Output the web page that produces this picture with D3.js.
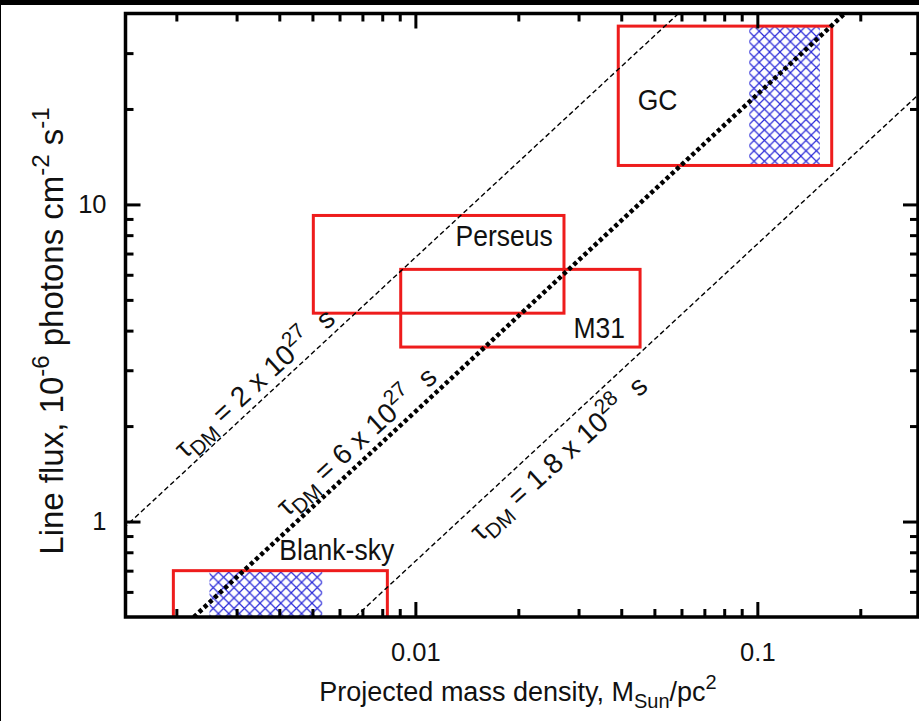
<!DOCTYPE html>
<html>
<head>
<meta charset="utf-8">
<title>Line flux vs projected mass density</title>
<script src="https://d3js.org/d3.v7.min.js"></script>
<style>
  body { margin: 0; background: #000; }
  svg { display: block; }
  text { font-family: "Liberation Sans", Arial, sans-serif; fill: #111; }
  .frame { fill: none; stroke: #000; stroke-width: 3.5; }
  .tick line { stroke: #000; stroke-width: 3; }
  .domain { display: none; }
  .box { fill: none; stroke: #ee1c1c; stroke-width: 3; }
</style>
</head>
<body>
<div id="chart"></div>
<script>

// observations  (M in M_sun/pc^2, F in 1e-6 ph/cm2/s)
var boxNames  = ["GC", "Perseus", "M31", "Blank-sky"];
var boxMmin   = [0.0392, 0.00503, 0.00906, 0.00196];
var boxMmax   = [0.165,  0.0272,  0.0454,  0.00828];
var boxFmin   = [13.27,  4.54,    3.55,    0.4];
var boxFmax   = [36.5,   9.23,    6.24,    0.70];

// label anchors for the boxes (data coords of text start / baseline)
var labelM = [0.0447, 0.01310, 0.02900, 0.00400];
var labelF = [19.8,   7.37,    3.78,    0.756];

// hatched sub-ranges
var hatchMmin = [0.0947, 0.0025];
var hatchMmax = [0.1524, 0.00534];
var hatchFmin = [13.27, 0.4];
var hatchFmax = [36.5, 0.70];

// decay-time lines, two end points each
var tauMant   = ["2", "6", "1.8"];
var tauExp    = ["27", "27", "28"];
var lineM0    = [0.0014, 0.00225, 0.00667];
var lineF0    = [0.952, 0.5, 0.5];
var lineM1    = [0.0588, 0.18, 0.3];
var lineF1    = [40, 40, 22.5];
var lineThick = [false, true, false];
var tauLabelM = [0.00212, 0.00421, 0.0155];
var tauLabelF = [1.57, 1.03, 0.86];

// ticks
var xMajor = [0.01, 0.1];
var xMinor = [0.002, 0.003, 0.004, 0.005, 0.006, 0.007, 0.008, 0.009,
              0.02, 0.03, 0.04, 0.05, 0.06, 0.07, 0.08, 0.09, 0.2];
var yMajor = [1, 10];
var yMinor = [0.6, 0.7, 0.8, 0.9, 2, 3, 4, 5, 6, 7, 8, 9, 20, 30];

var W = 919, H = 721;
var pl = 125.5, pr = 918, pt = 13.5, pb = 617;

var svg = d3.select("#chart").append("svg")
    .attr("width", W).attr("height", H);

svg.append("rect").attr("x", 1).attr("y", 5)
    .attr("width", W - 1).attr("height", H - 5).attr("fill", "#fff");

var x = d3.scaleLog().domain([0.00142, 0.295]).range([pl, pr]);
var y = d3.scaleLog().domain([0.5, 40]).range([pb, pt]);

var defs = svg.append("defs");
defs.append("clipPath").attr("id", "plotclip")
  .append("rect").attr("x", pl).attr("y", pt)
    .attr("width", pr - pl).attr("height", pb - pt);

var hs = 10.4;
var pat = defs.append("pattern").attr("id", "hatch")
    .attr("patternUnits", "userSpaceOnUse")
    .attr("width", hs).attr("height", hs);
pat.append("path").attr("d", "M0,0L" + hs + "," + hs + "M0," + hs + "L" + hs + ",0")
    .attr("stroke", "#2a2ad8").attr("stroke-width", 1.2).attr("fill", "none");

var plot = svg.append("g").attr("clip-path", "url(#plotclip)");

// hatched areas
plot.selectAll(".hatch")
  .data(d3.range(hatchMmin.length))
  .enter().append("rect")
    .attr("class", "hatch")
    .attr("x", function(i) { return x(hatchMmin[i]); })
    .attr("y", function(i) { return y(hatchFmax[i]); })
    .attr("width", function(i) { return x(hatchMmax[i]) - x(hatchMmin[i]); })
    .attr("height", function(i) { return y(hatchFmin[i]) - y(hatchFmax[i]); })
    .attr("fill", "url(#hatch)");

// red boxes
plot.selectAll(".box")
  .data(d3.range(boxNames.length))
  .enter().append("rect")
    .attr("class", "box")
    .attr("x", function(i) { return x(boxMmin[i]); })
    .attr("y", function(i) { return y(boxFmax[i]); })
    .attr("width", function(i) { return x(boxMmax[i]) - x(boxMmin[i]); })
    .attr("height", function(i) { return y(boxFmin[i]) - y(boxFmax[i]); });

// lines of constant decay time
plot.selectAll(".tau")
  .data(d3.range(tauMant.length))
  .enter().append("line")
    .attr("class", "tau")
    .attr("x1", function(i) { return x(lineM0[i]); })
    .attr("y1", function(i) { return y(lineF0[i]); })
    .attr("x2", function(i) { return x(lineM1[i]); })
    .attr("y2", function(i) { return y(lineF1[i]); })
    .attr("stroke", "#000")
    .attr("stroke-width", function(i) { return lineThick[i] ? 4.5 : 1.4; })
    .attr("stroke-dasharray", function(i) { return lineThick[i] ? "4,3" : "5,3"; });

// box labels (slightly tall glyphs like the original)
svg.selectAll(".blabel")
  .data(d3.range(boxNames.length))
  .enter().append("text")
    .attr("class", "blabel")
    .attr("transform", function(i) {
        return "translate(" + x(labelM[i]) + "," + y(labelF[i]) + ") scale(1,1.08)";
    })
    .attr("font-size", 26.5)
    .text(function(i) { return boxNames[i]; });

// rotated tau labels
var ang = Math.atan((y(1) - y(10)) / (x(0.1) - x(0.01))) * 180 / Math.PI;
var tl = svg.selectAll(".tlabel")
  .data(d3.range(tauMant.length))
  .enter().append("text")
    .attr("class", "tlabel")
    .attr("font-size", 28)
    .attr("transform", function(i) {
        return "translate(" + x(tauLabelM[i]) + "," + y(tauLabelF[i]) + ") rotate(" + (-ang + 0.5) + ")";
    });
tl.append("tspan").text("\u03c4");
tl.append("tspan").attr("font-size", 21).attr("dy", 7).text("DM");
tl.append("tspan").attr("dy", -7).text(function(i) { return " = " + tauMant[i] + " x 10"; });
tl.append("tspan").attr("font-size", 21).attr("dy", -12).text(function(i) { return tauExp[i]; });
tl.append("tspan").attr("dy", 12).attr("dx", 16).text("s");

// axes: ticks on all four sides, inward
function ax(gen, vals, size, tx, ty, labels) {
  var g = svg.append("g").attr("transform", "translate(" + tx + "," + ty + ")")
    .call(gen.tickValues(vals).tickSize(size)
      .tickFormat(labels ? function(d) { return d3.format("~g")(d); } : ""));
  g.selectAll("text").attr("font-size", 25.5).attr("fill", "#111")
    .attr("font-family", "Liberation Sans, Arial, sans-serif");
  return g;
}
ax(d3.axisBottom(x).tickPadding(26), xMajor, -15, 0, pb, true);
ax(d3.axisBottom(x), xMinor, -8, 0, pb, false);
ax(d3.axisTop(x), xMajor, -15, 0, pt, false);
ax(d3.axisTop(x), xMinor, -8, 0, pt, false);
ax(d3.axisLeft(y).tickPadding(19), yMajor, -15, pl, 0, true);
ax(d3.axisLeft(y), yMinor, -8, pl, 0, false);
ax(d3.axisRight(y), yMajor, -15, pr, 0, false);
ax(d3.axisRight(y), yMinor, -8, pr, 0, false);

svg.append("rect").attr("class", "frame")
    .attr("x", pl).attr("y", pt)
    .attr("width", pr - pl).attr("height", pb - pt);

// axis titles
var xt = svg.append("text")
    .attr("x", 518).attr("y", 701)
    .attr("text-anchor", "middle").attr("font-size", 27);
xt.append("tspan").text("Projected mass density, M");
xt.append("tspan").attr("font-size", 20).attr("dy", 7).text("Sun");
xt.append("tspan").attr("dy", -7).text("/pc");
xt.append("tspan").attr("font-size", 20).attr("dy", -12).text("2");

var yt = svg.append("text")
    .attr("transform", "translate(63,331) rotate(-90)")
    .attr("text-anchor", "middle").attr("font-size", 33);
yt.append("tspan").text("Line flux, 10");
yt.append("tspan").attr("font-size", 24).attr("dy", -14).text("-6");
yt.append("tspan").attr("dy", 14).text(" photons cm");
yt.append("tspan").attr("font-size", 24).attr("dy", -14).text("-2");
yt.append("tspan").attr("dy", 14).text(" s");
yt.append("tspan").attr("font-size", 24).attr("dy", -14).text("-1");

</script>
</body>
</html>
